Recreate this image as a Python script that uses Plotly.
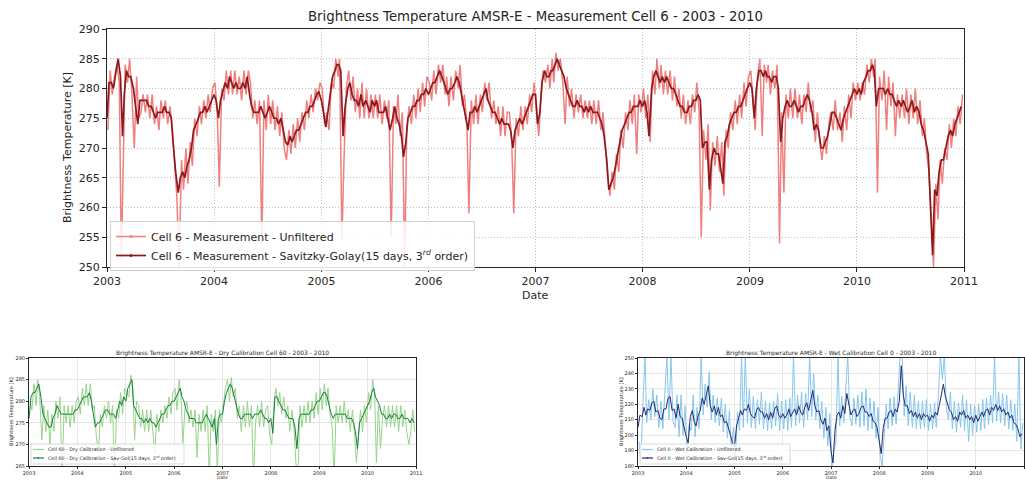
import pandas as pd
import plotly.graph_objects as go

YEARS = list(range(2003, 2011))

# ---------------- Main panel: Measurement Cell 6 ----------------
# smoothed (Savitzky-Golay) values, days 1, 8, 16, 23 of each month
meas_sg_2003 = [275,281,281,280, 283,285,282,272, 279,283,282,282, 280,277,274,278, 278,278,278,277, 277,276,275,276, 276,276,277,276, 276,275,270,266, 262.5,265,266,265, 267,268,270,273, 274,275,276,276, 277,276,277,278]
meas_sg_2004 = [279,278,275,278, 280,281,280,282, 281,280,281,280, 280,281,280,282, 279,277,276,276, 276,277,276,275, 276,277,276,275, 275,274,275,273, 271,270.5,272,271, 272,273,273,274, 275,276,276,277, 277,278,279,279.5]
meas_sg_2005 = [278,276,273.5,276, 279,282,283,284, 284,283,272,277, 280,281,279,278, 278,277,279,277, 278,277,276,278, 277,278,276,276, 276,277,275,273, 275,277,275,274, 272,268.5,271,275, 276,277,277,278, 278,279,279,280]
meas_sg_2006 = [279,280,281,281, 282,283,282,281, 280,279,280,280, 281,282,281,279, 277,275,273,276, 276,277,276,277, 278,279,280,278, 277,276,276,275, 274,275,274,274, 274,273,270,273, 274,275,274,275, 276,277,278,279]
meas_sg_2007 = [279,274,276,281, 283,282,282,283, 283,284,285,284, 283,282,280,279, 278,277,277,278, 277,277,276,277, 276,277,276,276, 276,275,274,272, 268,263,264,265, 267,269,271,273, 274,275,276,276, 277,277,277,278]
meas_sg_2008 = [277,278,276,272, 280,282,283,282, 281,282,281,282, 281,280,280,279, 278,277,277,276, 276,277,277,278, 278,279,278,270, 271,271,263,268, 270,269,269,267, 264,271,272,274, 275,276,276,277, 277,278,279,280]
meas_sg_2009 = [281,280,275,280, 283,283,282,283, 282,282,281,282, 282,280,271,275, 277,278,277,277, 278,277,276,277, 277,278,279,278, 276,273,274,273, 270,270,271,272, 274,276,276,275, 274,273,275,276, 277,278,279,280]
meas_sg_2010 = [279,280,279,281, 282,283,283,284, 283,277,280,280, 280,279,280,279, 279,278,277,278, 277,278,277,276, 277,278,276,277, 276,274,273,271, 269,261,252,263, 262,266,268,268, 270,272,273,272, 274,275,276,277]

# unfiltered values, days 4, 12, 19, 27 of each month
meas_raw_2003 = [273,283,279,282, 284,281,251,275, 284,281,285,279, 270,282,275,276, 279,276,279,275, 279,274,277,273, 278,275,278,274, 277,273,268,262, 250,268,263,270, 264,271,267,275, 272,277,274,278, 275,279,276,280]
meas_raw_2004 = [281,276,263.5,280, 278,283,279,283, 279,283,279,282, 278,283,279,283, 281,275,278,274, 278,254,278,273, 279,274,278,273, 277,272,276,270, 268,273,269,274, 270,275,271,276, 273,278,275,279, 276,280,278,281]
meas_raw_2005 = [280,274,276,273, 281,280,285,282, 285,254.5,268,280, 283,278,282,276, 280,275,281,275, 280,275,279,275, 279,275,279,274, 278,275,278,255, 277,274,279,272, 276,250,273,277, 274,279,275,280, 276,281,277,282]
meas_raw_2006 = [281,278,283,279, 284,281,284,279, 282,277,282,278, 283,280,284,277, 279,274,259,278, 274,279,274,279, 276,281,278,281, 275,278,274,277, 272,277,272,276, 276,271,259,275, 272,277,273,277, 274,279,276,281]
meas_raw_2007 = [277,272,278,283, 281,284,280,285, 281,286,283,285, 281,274,282,277, 280,275,279,276, 279,275,278,275, 278,274,278,274, 278,273,276,270, 265,262,266,263, 269,266,273,270, 276,273,278,274, 279,269,279,276]
meas_raw_2008 = [280,275,279,271, 283,279,285,280, 284,279,283,279, 283,278,282,277, 280,275,279,274, 278,274,279,276, 281,276,255,273, 268,274,259.5,271, 267,272,266,271, 262,273,270,276, 273,278,274,279, 275,281,277,282]
meas_raw_2009 = [283,278,273,282, 285,272,284,281, 284,279,283,280, 284,254,276,262.5, 279,275,280,275, 280,275,279,274, 279,276,281,276, 278,271,276,271, 268,272,269,274, 276,273,278,273, 276,271,277,273, 279,275,281,278]
meas_raw_2010 = [281,278,281,279, 284,281,285,282, 285,262.5,282,278, 283,273,282,277, 281,272,279,275, 279,275,280,274, 279,275,280,274, 278,272,275,269, 266,258,250,264, 258,268,264,270, 268,274,270,275, 272,277,274,279]

# ---------------- Dry calibration Cell 60 ----------------
# smoothed: days 1, 16 ; unfiltered: days 8, 23
dry_sg_2003 = [276,281, 282,282, 283,284, 281,277, 276,275, 274,274, 276,277, 279,278, 277,277, 277,277, 277,277, 277,278]
dry_sg_2004 = [278,279, 280,281, 281,281, 282,280, 277,274, 275,275, 276,277, 278,278, 277,277, 277,276, 278,280, 279,281]
dry_sg_2005 = [280,283, 284,285, 279,278, 277,276, 276,275, 276,275, 276,275, 275,274, 275,276, 277,277, 278,279, 279,280]
dry_sg_2006 = [280,281, 282,283, 281,280, 278,277, 276,276, 276,275, 275,275, 275,276, 277,276, 275,274, 276,270, 276,277]
dry_sg_2007 = [277,280, 282,283, 284,283, 281,279, 277,276, 276,277, 277,277, 277,276, 277,277, 277,278, 277,276, 276,275]
dry_sg_2008 = [276,272.6, 281,281, 280,279, 278,278, 277,276, 276,276, 274,269, 276,277, 277,277, 277,277, 278,278, 279,280]
dry_sg_2009 = [280,281, 282,282, 281,279, 277,276, 277,277, 277,277, 277,277, 276,276, 276,275, 273,269, 275,276, 277,278]
dry_sg_2010 = [279,280, 282,283, 281,280, 279,277, 277,276, 276,277, 276,277, 277,276, 276,277, 276,276, 276,275, 276,275]

dry_raw_2003 = [280,278, 284,279, 285,281, 271,279, 273,278, 270,277, 273,280, 276,281, 262,279, 275,279, 274,279, 275,280]
dry_raw_2004 = [281,277, 283,279, 284,279, 284,278, 279,272, 268,277, 274,279, 276,280, 275,279, 262,278, 276,282, 277,283]
dry_raw_2005 = [282,281, 286,283, 271,280, 279,274, 278,273, 278,273, 278,273, 268,277, 273,278, 275,279, 276,281, 277,282]
dry_raw_2006 = [283,278, 285,280, 270.3,278, 280,275, 278,274, 278,267, 277,273, 278,273, 279,262, 277,273, 278,263, 278,275]
dry_raw_2007 = [279,283, 285,280, 285.5,281, 283,276, 279,273, 279,274, 280,274, 279,262, 275,279, 274,280, 274,278, 279,272]
dry_raw_2008 = [270,279, 283,279, 282,277, 281,276, 279,273, 278,274, 265.8,262, 279,274, 279,275, 280,275, 280,276, 282,277]
dry_raw_2009 = [283,278, 284,279, 283,277, 274,262, 279,275, 279,275, 280,275, 278,273, 278,273, 265.8,271, 278,273, 279,275]
dry_raw_2010 = [282,278, 285,281, 265.8,279, 269,276, 279,274, 279,274, 279,274, 279,273, 279,274, 278,273, 270,273, 278,273]

# ---------------- Wet calibration Cell 0 ----------------
wet_sg_2003 = [205,213, 212,218, 213,217, 216,221, 222,215, 216,211, 210,217, 217,224, 225,216, 217,211, 220,212, 211,205]
wet_sg_2004 = [199,195, 212,216, 209,206, 213,216, 224,220, 227,232, 219,215, 219,213, 218,212, 213,208, 209,205, 200,195]
wet_sg_2005 = [192.5,206, 211,216, 213,217, 216,220, 214,212, 211,216, 218,215, 215,211, 214,210, 215,211, 217,219, 213,211]
wet_sg_2006 = [214,211, 213,217, 212,215, 217,213, 219,215, 213,218, 221,216, 223,229, 219,215, 216,210, 207,211, 203,206]
wet_sg_2007 = [190,182, 204,213, 215,211, 219,214, 227,219, 213,216, 217,212, 214,218, 219,215, 215,212, 214,209, 208,205]
wet_sg_2008 = [196,188, 205,211, 211,215, 216,212, 217,215, 222,245, 226,219, 219,214, 216,212, 215,211, 214,210, 214,212]
wet_sg_2009 = [213,209, 213,211, 215,213, 220,227, 233,225, 221,216, 215,210, 212,209, 215,213, 216,211, 213,210, 212,208]
wet_sg_2010 = [213,209, 212,215, 212,216, 217,213, 218,216, 220,216, 219,215, 217,213, 215,211, 213,208, 207,204, 199,201]

wet_raw_2003 = [196,183, 222,252, 208,223, 210,230, 212,226, 205,222, 204,226, 252,210, 252,209, 205,226, 199,226, 200,219]
wet_raw_2004 = [188,207, 203,226, 199,218, 204,252, 213,233, 218,241, 210,226, 208,224, 206,224, 202,220, 198,216, 190,205]
wet_raw_2005 = [184,215, 203,252, 205,252, 208,230, 205,225, 204,223, 207,228, 204,222, 203,221, 204,222, 206,227, 203,222]
wet_raw_2006 = [204,223, 203,224, 205,252, 206,226, 208,228, 205,227, 210,252, 212,240, 210,226, 204,222, 198,218, 193,214]
wet_raw_2007 = [180,190, 196,252, 206,225, 208,230, 252,212, 206,224, 207,226, 205,228, 206,230, 203,224, 204,222, 198,218]
wet_raw_2008 = [187,180, 198,220, 204,224, 206,225, 207,228, 252,252, 212,232, 206,228, 205,226, 204,222, 204,222, 205,223]
wet_raw_2009 = [203,220, 204,221, 205,225, 252,236, 252,218, 210,228, 204,222, 202,221, 205,226, 203,223, 196,220, 200,219]
wet_raw_2010 = [202,220, 203,223, 204,224, 207,226, 208,252, 209,228, 208,227, 206,226, 204,223, 203,220, 196,252, 191,208]

TITLE_MAIN = "Brightness Temperature AMSR-E - Measurement Cell 6 - 2003 - 2010"
TITLE_DRY = "Brightness Temperature AMSR-E - Dry Calibration Cell 60 - 2003 - 2010"
TITLE_WET = "Brightness Temperature AMSR-E - Wet Calibration Cell 0 - 2003 - 2010"
YLABEL = "Brightness Temperature [K]"
SUP = "3<sup><i>rd</i></sup>"
NAMES_MAIN = ["Cell 6 - Measurement - Unfiltered",
              "Cell 6 - Measurement - Savitzky-Golay(15 days, " + SUP + " order)"]
NAMES_DRY = ["Cell 60 - Dry Calibration - Unfiltered",
             "Cell 60 - Dry Calibration - Sav-Gol(15 days, " + SUP + " order)"]
NAMES_WET = ["Cell 0 - Wet Calibration - Unfiltered",
             "Cell 0 - Wet Calibration - Sav-Gol(15 days, " + SUP + " order)"]


def dates(days):
    return [pd.Timestamp(y, m, d) for y in YEARS for m in range(1, 13) for d in days]


def cat(*lists):
    out = []
    for l in lists:
        out.extend(l)
    return out


meas_sg = cat(meas_sg_2003, meas_sg_2004, meas_sg_2005, meas_sg_2006, meas_sg_2007, meas_sg_2008, meas_sg_2009, meas_sg_2010)
meas_raw = cat(meas_raw_2003, meas_raw_2004, meas_raw_2005, meas_raw_2006, meas_raw_2007, meas_raw_2008, meas_raw_2009, meas_raw_2010)
dry_sg = cat(dry_sg_2003, dry_sg_2004, dry_sg_2005, dry_sg_2006, dry_sg_2007, dry_sg_2008, dry_sg_2009, dry_sg_2010)
dry_raw = cat(dry_raw_2003, dry_raw_2004, dry_raw_2005, dry_raw_2006, dry_raw_2007, dry_raw_2008, dry_raw_2009, dry_raw_2010)
wet_sg = cat(wet_sg_2003, wet_sg_2004, wet_sg_2005, wet_sg_2006, wet_sg_2007, wet_sg_2008, wet_sg_2009, wet_sg_2010)
wet_raw = cat(wet_raw_2003, wet_raw_2004, wet_raw_2005, wet_raw_2006, wet_raw_2007, wet_raw_2008, wet_raw_2009, wet_raw_2010)

W, H = 1025, 481
FONT = "DejaVu Sans"
TXT = "#262626"

C_RED_L, C_RED_D = "#f07f7f", "#8e1a1d"
C_GRN_L, C_GRN_D = "#98d48a", "#14803c"
C_BLU_L, C_BLU_D = "#86c7ec", "#252a72"

fig = go.Figure()

panels = [
    ("x", "y", meas_raw, meas_sg, dates([4, 12, 19, 27]), dates([1, 8, 16, 23]),
     C_RED_L, C_RED_D, 1.5, 1.7, NAMES_MAIN, True),
    ("x2", "y2", dry_raw, dry_sg, dates([8, 23]), dates([1, 16]),
     C_GRN_L, C_GRN_D, 1.0, 1.0, NAMES_DRY, False),
    ("x3", "y3", wet_raw, wet_sg, dates([8, 23]), dates([1, 16]),
     C_BLU_L, C_BLU_D, 1.0, 1.0, NAMES_WET, False),
]

for xa, ya, raw, sg, draw, dsg, cl, cd, wl, wd, names, use_legend in panels:
    fig.add_trace(go.Scatter(x=draw, y=raw, mode="lines", xaxis=xa, yaxis=ya,
                             line=dict(color=cl, width=wl), showlegend=False, hoverinfo="skip"))
    fig.add_trace(go.Scatter(x=dsg, y=sg, mode="lines", xaxis=xa, yaxis=ya,
                             line=dict(color=cd, width=wd), showlegend=False, hoverinfo="skip"))
    if use_legend:
        for c, w, n in ((cl, wl, names[0]), (cd, wd, names[1])):
            fig.add_trace(go.Scatter(x=[None], y=[None], mode="lines+markers", xaxis=xa, yaxis=ya,
                                     line=dict(color=c, width=w), marker=dict(size=3, color=c),
                                     name=n))


def px_x(v):
    return v / W


def px_y(v):
    return 1 - v / H


def xax(dom, anchor, fs, grid_dash, grid_col, lw, tlen):
    return dict(domain=dom, anchor=anchor, type="date", automargin=False,
                range=["2003-01-01", "2011-01-01"], tick0="2003-01-01", dtick="M12",
                tickformat="%Y", showgrid=True, gridcolor=grid_col, griddash=grid_dash,
                gridwidth=1, showline=True, mirror=True, linecolor=TXT, linewidth=lw,
                ticks="outside", ticklen=tlen, tickwidth=1, tickcolor=TXT,
                tickfont=dict(family=FONT, size=fs, color=TXT), zeroline=False)


def yax(dom, anchor, rng, dt, fs, grid_dash, grid_col, lw, tlen):
    return dict(domain=dom, anchor=anchor, range=rng, dtick=dt, tick0=rng[0], automargin=False,
                showgrid=True, gridcolor=grid_col, griddash=grid_dash, gridwidth=1,
                showline=True, mirror=True, linecolor=TXT, linewidth=lw,
                ticks="outside", ticklen=tlen, tickwidth=1, tickcolor=TXT,
                tickfont=dict(family=FONT, size=fs, color=TXT), zeroline=False)


fig.update_layout(
    width=W, height=H, margin=dict(l=0, r=0, t=0, b=0, autoexpand=False),
    paper_bgcolor="white", plot_bgcolor="white",
    font=dict(family=FONT, color=TXT),
    xaxis=xax([px_x(107), px_x(964)], "y", 11, "1px,2px", "#bdbdbd", 1.3, 4),
    yaxis=yax([px_y(267), px_y(29)], "x", [250, 290], 5, 11, "1px,2px", "#bdbdbd", 1.3, 4),
    xaxis2=xax([px_x(29), px_x(416)], "y2", 5, "solid", "#e6e6e6", 1, 2),
    yaxis2=yax([px_y(466), px_y(358)], "x2", [265, 290], 5, 5, "solid", "#e6e6e6", 1, 2),
    xaxis3=xax([px_x(638), px_x(1024)], "y3", 5, "solid", "#e6e6e6", 1, 2),
    yaxis3=yax([px_y(466), px_y(358)], "x3", [180, 250], 10, 5, "solid", "#e6e6e6", 1, 2),
    legend=dict(x=px_x(110), y=px_y(221), xanchor="left", yanchor="top",
                bgcolor="rgba(255,255,255,0.85)", bordercolor="#d0d0d0", borderwidth=1,
                font=dict(family=FONT, size=11, color=TXT), tracegroupgap=0),
)


def ann(text, x, y, size, angle=0, xanchor="center"):
    fig.add_annotation(text=text, x=px_x(x), y=px_y(y), xref="paper", yref="paper",
                       xanchor=xanchor, yanchor="middle", showarrow=False,
                       textangle=angle, font=dict(family=FONT, size=size, color=TXT))


ann(TITLE_MAIN, 535.5, 17, 13.3)
ann("Date", 535.5, 295, 11)
ann(YLABEL, 67, 148, 11, -90)
ann(TITLE_DRY, 222.5, 353, 6)
ann("Date", 222.5, 477, 4.5)
ann(YLABEL, 11, 412, 5, -90)
ann(TITLE_WET, 831, 353, 6)
ann("Date", 831, 477, 4.5)
ann(YLABEL, 621, 412, 5, -90)


# compact legends for the two small panels (plotly's legend rows are too tall at this size)
def small_legend(x0, x1, y0, y1, rows):
    fig.add_shape(type="rect", xref="paper", yref="paper", layer="above",
                  x0=px_x(x0), x1=px_x(x1), y0=px_y(y1), y1=px_y(y0),
                  fillcolor="rgba(255,255,255,0.8)", line=dict(color="#d0d0d0", width=0.8))
    for color, yy, text in rows:
        fig.add_shape(type="line", xref="paper", yref="paper", layer="above",
                      x0=px_x(x0 + 2), x1=px_x(x0 + 13), y0=px_y(yy), y1=px_y(yy),
                      line=dict(color=color, width=1.2))
        fig.add_shape(type="circle", xref="paper", yref="paper", layer="above",
                      x0=px_x(x0 + 7), x1=px_x(x0 + 8), y0=px_y(yy + 0.5), y1=px_y(yy - 0.5),
                      fillcolor=color, line=dict(color=color, width=0.5))
        ann(text, x0 + 15, yy, 4.8, xanchor="left")


small_legend(31, 184, 444, 464, [(C_GRN_L, 449.5, NAMES_DRY[0]), (C_GRN_D, 458, NAMES_DRY[1])])
small_legend(640, 790, 444, 464, [(C_BLU_L, 449.5, NAMES_WET[0]), (C_BLU_D, 458, NAMES_WET[1])])

fig.write_html("out.html")
